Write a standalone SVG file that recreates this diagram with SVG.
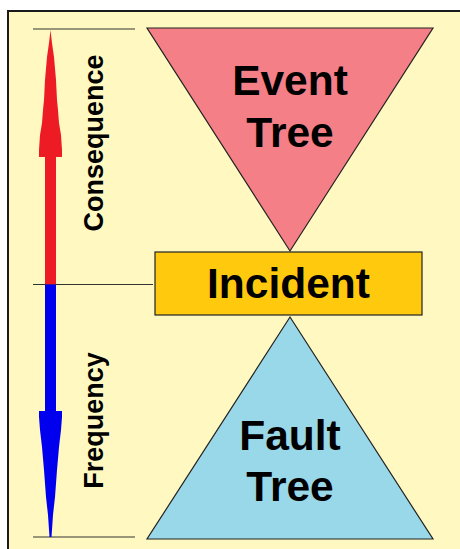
<svg xmlns="http://www.w3.org/2000/svg" width="460" height="549" viewBox="0 0 460 549">
  <style>
    .frame { fill: #FFF8C1; stroke: #1a1a1a; stroke-width: 2; }
    .shape { stroke: #222; stroke-width: 1.2; stroke-linejoin: miter; }
    .big { font-family: "Liberation Sans", Arial, sans-serif; font-weight: bold; font-size: 42.5px; fill: #000; text-anchor: middle; }
    .side { font-family: "Liberation Sans", Arial, sans-serif; font-weight: bold; font-size: 27px; fill: #000; text-anchor: middle; }
    .guide { stroke: #333; stroke-width: 1.2; fill: none; }
  </style>

  <!-- white margin and the pale panel -->
  <rect x="0" y="0" width="460" height="549" fill="#ffffff"/>
  <rect class="frame" x="8" y="11" width="470" height="560"/>

  <!-- guide lines tying the scale to the bow-tie -->
  <g id="connectors">
    <line class="guide" x1="33" y1="29" x2="135" y2="29"/>
    <line class="guide" x1="33" y1="284.5" x2="153" y2="284.5"/>
    <line class="guide" x1="33" y1="537" x2="135" y2="537"/>
  </g>

  <!-- upward arrow: consequence -->
  <g id="consequence-arrow">
    <polygon fill="#ED1C24" points="50.5,30 52,43 54,57 56,80 57,100 58,110 59,123 61,135 62,150 62,157 56,157 56,284.5 45,284.5 45,157 39,157 39,150 40,135 42,123 43,110 44,100 45,80 47,57 49,43"/>
    <text class="side" transform="translate(103,143) rotate(-90)">Consequence</text>
  </g>

  <!-- downward arrow: frequency -->
  <g id="frequency-arrow">
    <polygon fill="#0000EE" points="45,284.5 56,284.5 56,411 62,411 62,417 61,430 59,447 57,470 55,497 53,515 51.5,537 49.5,537 48,515 46,497 44,470 42,447 40,430 39,417 39,411 45,411"/>
    <text class="side" transform="translate(103,420.5) rotate(-90)">Frequency</text>
  </g>

  <!-- event tree (inverted triangle) -->
  <g id="event-tree">
    <polygon class="shape" fill="#F47F86" points="147,28 433,28 290,251"/>
    <text class="big" x="290" y="95">Event</text>
    <text class="big" x="290" y="147">Tree</text>
  </g>

  <!-- fault tree (upright triangle) -->
  <g id="fault-tree">
    <polygon class="shape" fill="#99D8E9" points="290,317 433,539 147,539"/>
    <text class="big" x="290" y="450">Fault</text>
    <text class="big" x="290" y="501">Tree</text>
  </g>

  <!-- incident box -->
  <g id="incident">
    <rect class="shape" fill="#FFC90E" x="155" y="252" width="267" height="63"/>
    <text class="big" x="288.5" y="298">Incident</text>
  </g>
</svg>
